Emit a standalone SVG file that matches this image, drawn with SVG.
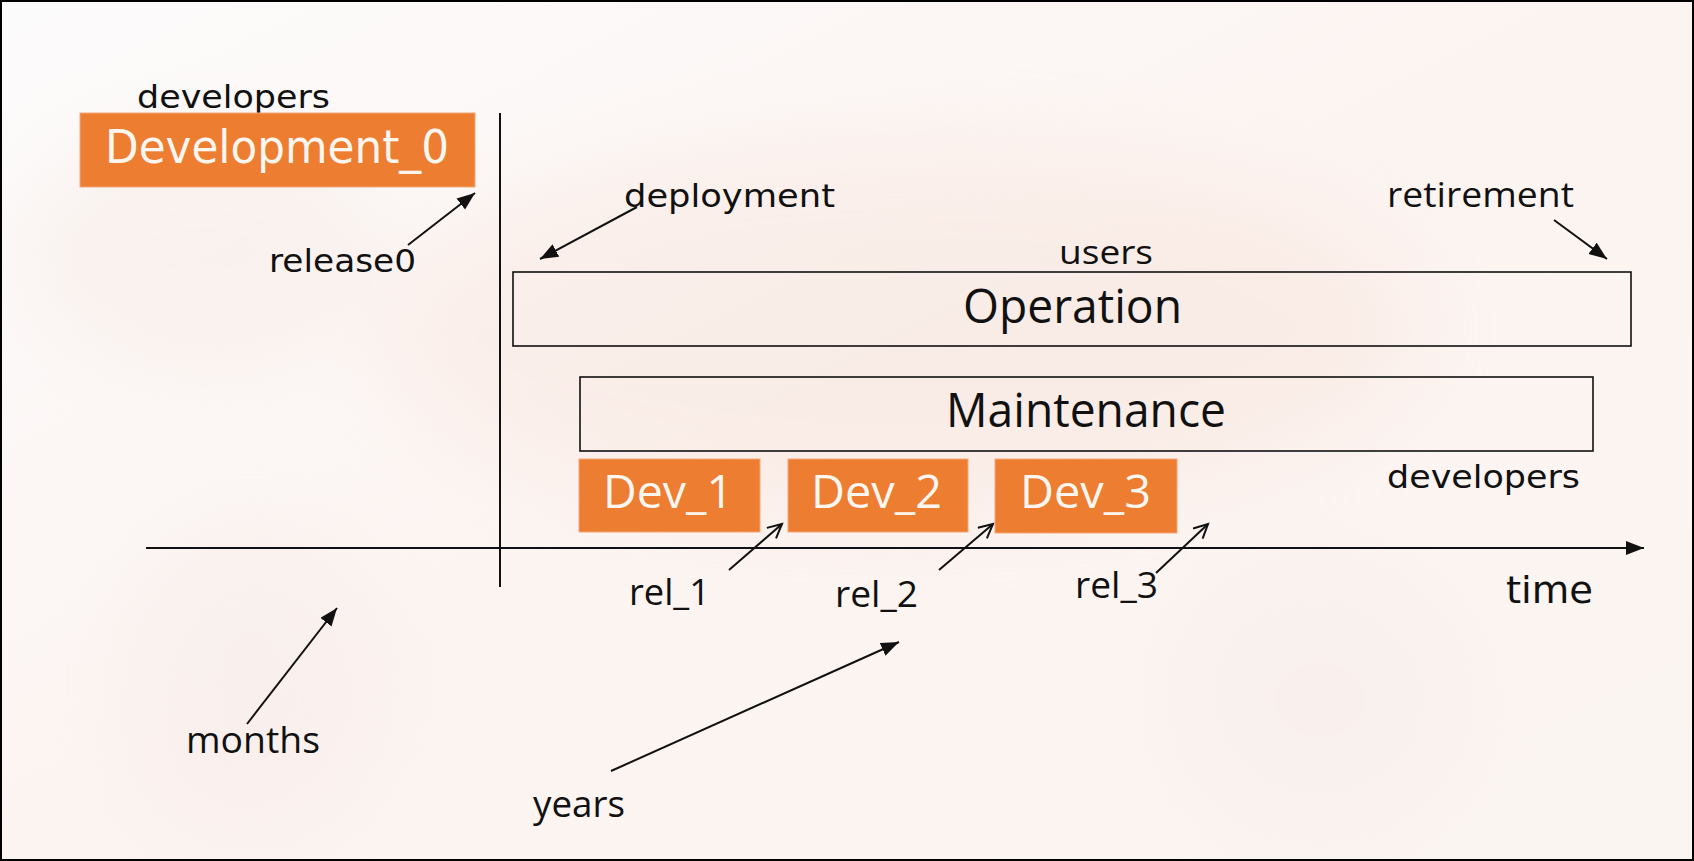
<svg xmlns="http://www.w3.org/2000/svg" width="1694" height="861" viewBox="0 0 1694 861">
  <defs>
    <style>
      .lbl { font-family: "DejaVu Sans", "Open Sans", sans-serif; fill: #111; }
      .cnd { font-family: "Open Sans", "DejaVu Sans", sans-serif; fill: #111; }
      .wt { font-family: "DejaVu Sans", "Open Sans", sans-serif; fill: #FFF6F0; }
      .wtc { font-family: "Open Sans", "DejaVu Sans", sans-serif; fill: #FFF6F0; }
      .obox { fill: #ED7D31; stroke: #F3A77A; stroke-width: 1; }
      .wbox { fill: none; stroke: #111; stroke-width: 1.6; }
      .ln { stroke: #111; stroke-width: 2; fill: none; }
      .ar { stroke: #111; stroke-width: 2; fill: none; marker-end: url(#tri); }
      .op { stroke: #111; stroke-width: 2; fill: none; marker-end: url(#vee); }
    </style>
    <marker id="tri" markerUnits="userSpaceOnUse" markerWidth="20" markerHeight="16" refX="18" refY="7" orient="auto">
      <path d="M0,0 L18,7 L0,14 Z" fill="#111"/>
    </marker>
    <marker id="vee" markerUnits="userSpaceOnUse" markerWidth="20" markerHeight="20" refX="16" refY="8" orient="auto">
      <path d="M2,1 L16,8 L2,15" fill="none" stroke="#111" stroke-width="2"/>
    </marker>
    <filter id="blur" x="-50%" y="-50%" width="200%" height="200%">
      <feGaussianBlur stdDeviation="40"/>
    </filter>
    <linearGradient id="bg" x1="0" y1="0" x2="1" y2="1">
      <stop offset="0" stop-color="#FCFBFB"/>
      <stop offset="0.5" stop-color="#FCF4F1"/>
      <stop offset="1" stop-color="#FBF5F2"/>
    </linearGradient>
  </defs>

  <g id="background">
    <rect x="0" y="0" width="1694" height="861" fill="url(#bg)"/>
    <g filter="url(#blur)" opacity="0.22">
      <ellipse cx="900" cy="330" rx="520" ry="190" fill="#F3D3C6"/>
      <ellipse cx="250" cy="680" rx="130" ry="160" fill="#EFE2DE"/>
      <ellipse cx="1320" cy="700" rx="150" ry="140" fill="#EFE2DE"/>
      <ellipse cx="200" cy="250" rx="180" ry="120" fill="#F1DCD2"/>
    </g>
    <rect x="1" y="1" width="1692" height="859" fill="none" stroke="#000" stroke-width="2"/>
  </g>

  <g id="connectors">
    <line class="ln" x1="500" y1="113" x2="500" y2="587"/>
    <line class="ar" x1="146" y1="548" x2="1644" y2="548"/>
    <line class="ar" x1="408" y1="245" x2="475" y2="193"/>
    <line class="ar" x1="637" y1="207" x2="540" y2="259"/>
    <line class="ar" x1="1554" y1="220" x2="1607" y2="259"/>
    <line class="ar" x1="247" y1="724" x2="337" y2="608"/>
    <line class="ar" x1="611" y1="771" x2="899" y2="642"/>
    <line class="op" x1="729" y1="570" x2="782" y2="524"/>
    <line class="op" x1="939" y1="570" x2="993" y2="524"/>
    <line class="op" x1="1156" y1="573" x2="1208" y2="524"/>
  </g>

  <g id="development0">
    <text class="lbl" x="137" y="108" font-size="32" textLength="193" lengthAdjust="spacingAndGlyphs">developers</text>
    <rect class="obox" x="80" y="113" width="395" height="74"/>
    <text class="wt" x="105" y="163" font-size="46" textLength="344" lengthAdjust="spacingAndGlyphs">Development_0</text>
  </g>

  <g id="release0">
    <text class="lbl" x="269" y="272" font-size="32" textLength="147" lengthAdjust="spacingAndGlyphs">release0</text>
  </g>

  <g id="deployment">
    <text class="lbl" x="624" y="207" font-size="32" textLength="211" lengthAdjust="spacingAndGlyphs">deployment</text>
  </g>

  <g id="retirement">
    <text class="cnd" x="1387" y="207" font-size="34" textLength="187" lengthAdjust="spacingAndGlyphs">retirement</text>
  </g>

  <g id="operation">
    <text class="cnd" x="1059" y="264" font-size="32" textLength="94" lengthAdjust="spacingAndGlyphs">users</text>
    <rect class="wbox" x="513" y="272" width="1118" height="74"/>
    <text class="cnd" x="963" y="323" font-size="47" textLength="219" lengthAdjust="spacingAndGlyphs">Operation</text>
  </g>

  <g id="maintenance">
    <rect class="wbox" x="580" y="377" width="1013" height="74"/>
    <text class="cnd" x="946" y="427" font-size="48" textLength="280" lengthAdjust="spacingAndGlyphs">Maintenance</text>
    <text class="lbl" x="1387" y="488" font-size="32" textLength="193" lengthAdjust="spacingAndGlyphs">developers</text>
  </g>

  <g id="dev1">
    <rect class="obox" x="579" y="459" width="181" height="73"/>
    <text class="wtc" x="603" y="508" font-size="46" textLength="130" lengthAdjust="spacingAndGlyphs">Dev_1</text>
  </g>
  <g id="dev2">
    <rect class="obox" x="788" y="459" width="180" height="73"/>
    <text class="wtc" x="811" y="508" font-size="46" textLength="131" lengthAdjust="spacingAndGlyphs">Dev_2</text>
  </g>
  <g id="dev3">
    <rect class="obox" x="995" y="459" width="182" height="74"/>
    <text class="wtc" x="1020" y="508" font-size="46" textLength="131" lengthAdjust="spacingAndGlyphs">Dev_3</text>
  </g>

  <g id="rel1"><text class="cnd" x="629" y="605" font-size="36" textLength="81" lengthAdjust="spacingAndGlyphs">rel_1</text></g>
  <g id="rel2"><text class="cnd" x="835" y="607" font-size="36" textLength="83" lengthAdjust="spacingAndGlyphs">rel_2</text></g>
  <g id="rel3"><text class="cnd" x="1075" y="598" font-size="36" textLength="83" lengthAdjust="spacingAndGlyphs">rel_3</text></g>

  <g id="time"><text class="lbl" x="1506" y="603" font-size="38" textLength="87" lengthAdjust="spacingAndGlyphs">time</text></g>
  <g id="months"><text class="cnd" x="186" y="753" font-size="37" textLength="134" lengthAdjust="spacingAndGlyphs">months</text></g>
  <g id="years"><text class="cnd" x="533" y="817" font-size="37" textLength="92" lengthAdjust="spacingAndGlyphs">years</text></g>
</svg>
